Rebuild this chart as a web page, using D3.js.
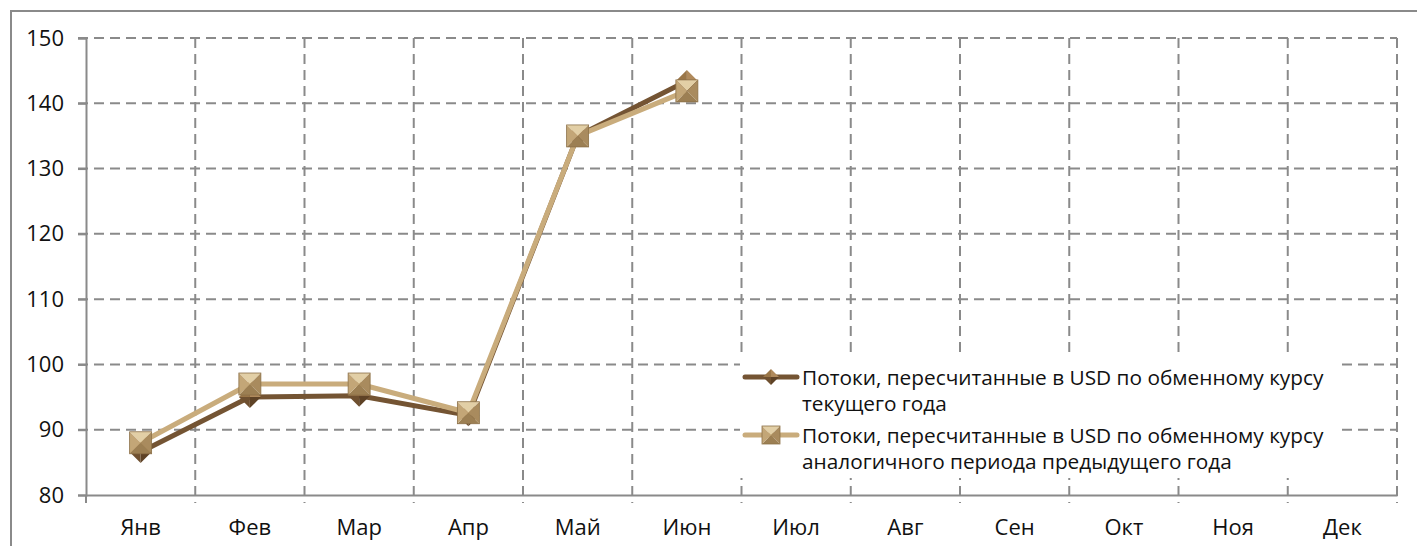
<!DOCTYPE html>
<html>
<head>
<meta charset="utf-8">
<script src="https://cdn.jsdelivr.net/npm/d3@7"></script>
<style>
  body { margin: 0; background: #fff; }
  text { font-family: "Open Sans", "Noto Sans", sans-serif; fill: #111; }
</style>
</head>
<body>
<script>
// months on the x axis
const months = ['Янв', 'Фев', 'Мар', 'Апр', 'Май', 'Июн', 'Июл', 'Авг', 'Сен', 'Окт', 'Ноя', 'Дек'];
// flows converted at current-year exchange rate
const currentRate = [86.6, 95.0, 95.2, 92.2, 135.0, 143.4];
// flows converted at previous-year exchange rate
const prevRate = [88.0, 97.0, 97.0, 92.6, 135.0, 141.9];
const yTicks = [80, 90, 100, 110, 120, 130, 140, 150];
const seriesNames = [
  ['Потоки, пересчитанные в USD по обменному курсу', 'текущего года'],
  ['Потоки, пересчитанные в USD по обменному курсу', 'аналогичного периода предыдущего года']
];

const W = 1417, H = 546;
const mLeft = 86, mRight = 1397, mTop = 38, mBottom = 495;

const svg = d3.select('body').append('svg')
  .attr('width', W).attr('height', H);

// outer frame (top and left edges visible)
svg.append('path')
  .attr('d', `M11,${H} L11,11 L${W},11`)
  .attr('fill', 'none').attr('stroke', '#8a8a8a').attr('stroke-width', 2);

const x = d3.scaleBand().domain(months).range([mLeft, mRight]);
const y = d3.scaleLinear().domain([80, 150]).range([mBottom, mTop]);

const gridColor = '#8a8a8a';

// horizontal dashed grid
svg.append('g').selectAll('line')
  .data(yTicks.filter(d => d > 80))
  .enter().append('line')
  .attr('x1', mLeft - 8).attr('x2', mRight)
  .attr('y1', d => y(d)).attr('y2', d => y(d))
  .attr('stroke', gridColor).attr('stroke-width', 2)
  .attr('stroke-dasharray', '10,6');

// vertical dashed grid at band edges
const edges = months.map(m => x(m) + x.bandwidth());
svg.append('g').selectAll('line')
  .data(edges)
  .enter().append('line')
  .attr('x1', d => d).attr('x2', d => d)
  .attr('y1', mTop).attr('y2', mBottom + 8)
  .attr('stroke', gridColor).attr('stroke-width', 2)
  .attr('stroke-dasharray', '10,6');

// y axis
const yAxis = svg.append('g')
  .attr('transform', `translate(${mLeft},0)`)
  .call(d3.axisLeft(y).tickValues(yTicks).tickSize(8).tickPadding(14));
yAxis.select('.domain').attr('stroke', gridColor).attr('stroke-width', 2);
yAxis.selectAll('.tick line').attr('stroke', gridColor).attr('stroke-width', 2);
yAxis.selectAll('text').attr('font-size', 22).style('fill', '#111');

// x axis
const xAxis = svg.append('g')
  .attr('transform', `translate(0,${mBottom})`)
  .call(d3.axisBottom(x).tickSize(0).tickPadding(24));
xAxis.select('.domain').attr('stroke', gridColor).attr('stroke-width', 2);
xAxis.selectAll('text').attr('font-size', 22).style('fill', '#111');
svg.append('line')
  .attr('x1', mLeft).attr('x2', mLeft).attr('y1', mBottom).attr('y2', mBottom + 8)
  .attr('stroke', gridColor).attr('stroke-width', 2);

const darkLine = '#745433';
const lightLine = '#c9ac7c';

const line = d3.line()
  .x((d, i) => x(months[i]) + x.bandwidth() / 2)
  .y(d => y(d));

function diamond(g, cx, cy, r) {
  const faces = [
    [[cx, cy - r], [cx + r, cy], [cx, cy]],
    [[cx + r, cy], [cx, cy + r], [cx, cy]],
    [[cx, cy + r], [cx - r, cy], [cx, cy]],
    [[cx - r, cy], [cx, cy - r], [cx, cy]]
  ];
  const cols = ['#b08a5c', '#5e4226', '#6f5030', '#9a7648'];
  faces.forEach((f, i) => g.append('path')
    .attr('d', 'M' + f.join('L') + 'Z').attr('fill', cols[i]));
}

function square(g, cx, cy, r) {
  const a = [cx - r, cy - r], b = [cx + r, cy - r], c = [cx + r, cy + r], d = [cx - r, cy + r];
  const m = [cx, cy];
  const faces = [[a, b, m], [b, c, m], [c, d, m], [d, a, m]];
  const cols = ['#e2cfa6', '#a98b5e', '#9c7f53', '#c3a677'];
  faces.forEach((f, i) => g.append('path')
    .attr('d', 'M' + f.join('L') + 'Z').attr('fill', cols[i]));
  g.append('rect').attr('x', cx - r).attr('y', cy - r)
    .attr('width', 2 * r).attr('height', 2 * r)
    .attr('fill', 'none').attr('stroke', '#8c7048').attr('stroke-width', 0.8);
}

// series 1 line
svg.append('path').datum(currentRate)
  .attr('d', line).attr('fill', 'none')
  .attr('stroke', darkLine).attr('stroke-width', 5).attr('stroke-linejoin', 'round');
// series 2 line
svg.append('path').datum(prevRate)
  .attr('d', line).attr('fill', 'none')
  .attr('stroke', lightLine).attr('stroke-width', 5).attr('stroke-linejoin', 'round');

const mk1 = svg.append('g');
currentRate.forEach((v, i) => diamond(mk1, x(months[i]) + x.bandwidth() / 2, y(v), 11));
const mk2 = svg.append('g');
prevRate.forEach((v, i) => square(mk2, x(months[i]) + x.bandwidth() / 2, y(v), 11));

// legend
const lg = svg.append('g');
lg.append('rect').attr('x', 740).attr('y', 358).attr('width', 600).attr('height', 120).attr('fill', '#fff');
const legendRows = [
  { y: 377, color: darkLine, mark: diamond, names: seriesNames[0] },
  { y: 435, color: lightLine, mark: square, names: seriesNames[1] }
];
legendRows.forEach(r => {
  lg.append('line').attr('x1', 745).attr('x2', 797).attr('y1', r.y).attr('y2', r.y)
    .attr('stroke', r.color).attr('stroke-width', 5).attr('stroke-linecap', 'round');
  r.mark(lg, 771, r.y, r.mark === diamond ? 8 : 9);
  r.names.forEach((t, k) => {
    lg.append('text').attr('x', 802).attr('y', r.y + 8 + k * 26)
      .attr('font-size', 20.8).text(t);
  });
});
</script>
</body>
</html>
